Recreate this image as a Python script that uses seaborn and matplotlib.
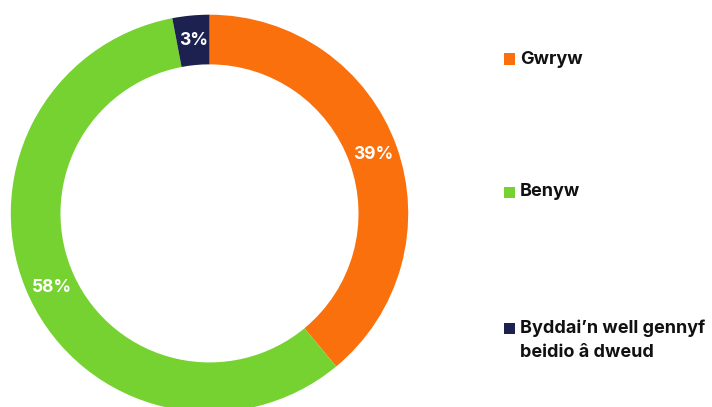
import matplotlib
matplotlib.use("Agg")
import matplotlib.pyplot as plt
import seaborn as sns
from matplotlib.patches import Rectangle

categories = ['Gwryw', 'Benyw', 'Byddai\u2019n well gennyf\nbeidio \u00e2 dweud']
values = [39, 58, 3]
colors = ['#F9700C', '#76D230', '#1D2150']

sns.set_theme(style='white')
plt.rcParams['font.family'] = ['Inter', 'DejaVu Sans']

W, H = 712, 407
fig = plt.figure(figsize=(W / 100, H / 100), dpi=100)
fig.patch.set_facecolor('white')

# donut geometry in pixels
cx, cy, r = 209.5, 213.4, 198.7
ax = fig.add_axes([(cx - r) / W, (H - cy - r) / H, 2 * r / W, 2 * r / H])

wedges, texts = ax.pie(values, colors=colors, startangle=90, counterclock=False,
                       radius=1, labels=[f'{v}%' for v in values], labeldistance=0.875,
                       wedgeprops=dict(width=0.25, linewidth=0),
                       textprops=dict(color='white', fontsize=12.5, fontweight='bold'))
for t in texts:
    t.set_ha('center')
    t.set_va('center')
ax.set_xlim(-1, 1)
ax.set_ylim(-1, 1)
ax.set_aspect('equal')
ax.axis('off')

# legend on the right
legend_y = [59, 192, 328]
for cat, col, y in zip(categories, colors, legend_y):
    fig.patches.append(Rectangle((504 / W, (H - y - 5.5) / H), 11 / W, 11 / H,
                                 transform=fig.transFigure, facecolor=col,
                                 edgecolor='none'))
    # multi-line label: centre between the two lines so line 1 sits on the marker
    ty = y + 12 if '\n' in cat else y
    fig.text(520 / W, (H - ty) / H, cat, fontsize=13, fontweight='bold',
             color='#111111', ha='left', va='center', linespacing=1.55)

fig.savefig('out.png', dpi=100, facecolor='white')
